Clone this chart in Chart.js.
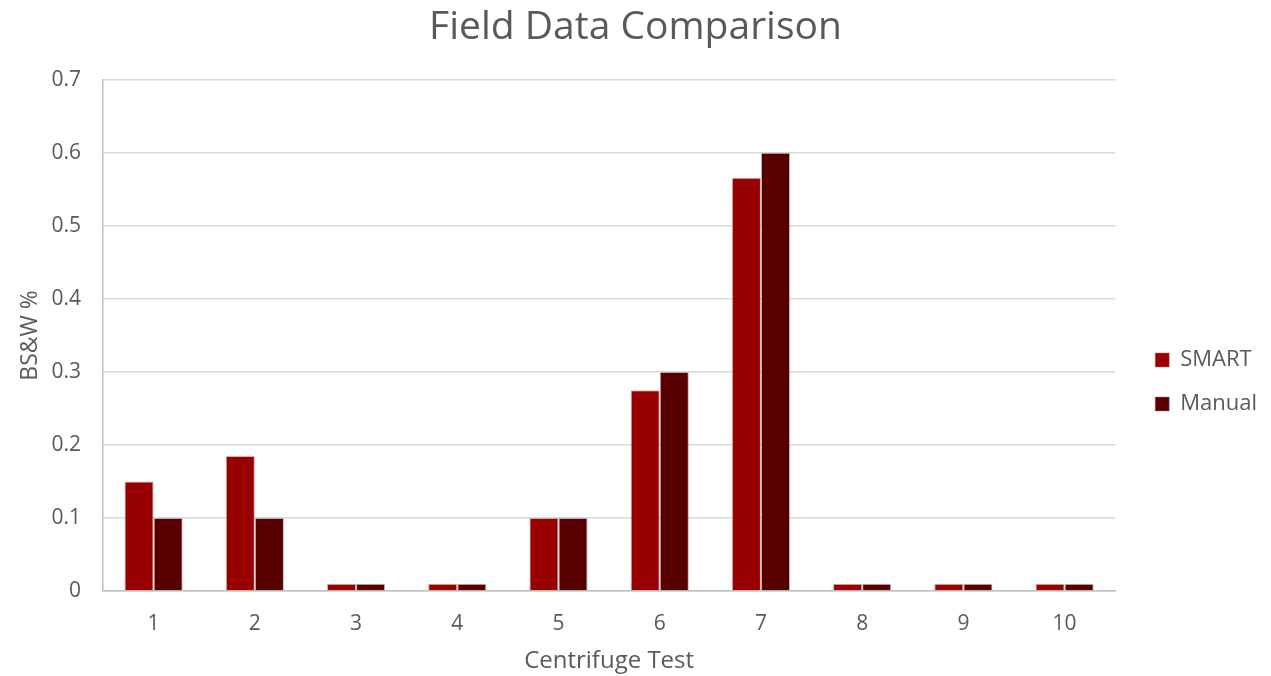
<!DOCTYPE html>
<html>
<head>
<meta charset="utf-8">
<script src="https://cdn.jsdelivr.net/npm/chart.js@4/dist/chart.umd.min.js"></script>
<style>
  html, body { margin: 0; padding: 0; background: #ffffff; }
  #wrap { width: 1271px; height: 676px; }
</style>
</head>
<body>
<div id="wrap"><canvas id="c" width="1271" height="676"></canvas></div>
<script>
// Centrifuge test numbers along the x axis
const categories = ['1', '2', '3', '4', '5', '6', '7', '8', '9', '10'];
// BS&W % readings per test
const smartValues  = [0.15, 0.185, 0.01, 0.01, 0.1, 0.275, 0.566, 0.01, 0.01, 0.01];
const manualValues = [0.1, 0.1, 0.01, 0.01, 0.1, 0.3, 0.6, 0.01, 0.01, 0.01];
const yTicks = [0, 0.1, 0.2, 0.3, 0.4, 0.5, 0.6, 0.7];

const FONT = "'Open Sans', 'Liberation Sans', sans-serif";
const TEXT = '#595959';

// Nudge the legend away from the plot and centre the title on the full canvas
const boxOffsets = {
  id: 'boxOffsets',
  afterLayout(chart) {
    const lg = chart.legend;
    if (lg) { lg.left += 18; lg.right += 18; }
    const tb = chart.titleBlock;
    if (tb) { tb.left += 11; tb.right += 11; }
  }
};

new Chart(document.getElementById('c'), {
  type: 'bar',
  data: {
    labels: categories,
    datasets: [
      { label: 'SMART',  data: smartValues,  backgroundColor: '#990000', borderColor: 'rgba(160,110,110,0.5)', borderWidth: 1 },
      { label: 'Manual', data: manualValues, backgroundColor: '#580000', borderColor: 'rgba(160,110,110,0.5)', borderWidth: 1 }
    ]
  },
  plugins: [boxOffsets],
  options: {
    responsive: false,
    animation: false,
    devicePixelRatio: 1,
    layout: { padding: { left: 0, right: 22, top: 0, bottom: 0 } },
    datasets: { bar: { categoryPercentage: 0.575, barPercentage: 1.0 } },
    plugins: {
      title: {
        display: true,
        text: 'Field Data Comparison',
        color: TEXT,
        font: { family: FONT, size: 39, weight: 'normal' },
        padding: { top: 4, bottom: 29 }
      },
      legend: {
        position: 'right',
        title: { display: true, text: ' ', font: { size: 10 }, padding: { top: 76, bottom: 0 } },
        labels: {
          color: TEXT,
          font: { family: FONT, size: 22 },
          boxWidth: 14,
          boxHeight: 14,
          padding: 22,
          useBorderRadius: false
        }
      },
      tooltip: { enabled: false }
    },
    scales: {
      x: {
        afterFit: (axis) => { axis.height = 85; },
        grid: { display: false, drawTicks: false },
        border: { color: '#bfbfbf', width: 1.5 },
        ticks: { color: TEXT, font: { family: FONT, size: 21 }, padding: 20 },
        title: { display: true, text: 'Centrifuge Test', color: TEXT, font: { family: FONT, size: 24 }, padding: { top: 2, bottom: 0 } }
      },
      y: {
        min: 0,
        max: 0.7,
        afterFit: (axis) => { axis.width = 103; },
        afterBuildTicks: (axis) => { axis.ticks = yTicks.map(v => ({ value: v })); },
        grid: { color: '#d9d9d9', lineWidth: 1.5, drawTicks: false },
        border: { color: '#bfbfbf', width: 1.5 },
        ticks: { color: TEXT, font: { family: FONT, size: 21 }, padding: 22, callback: (v) => String(Math.round(v * 10) / 10) },
        title: { display: true, text: 'BS&W %', color: TEXT, font: { family: FONT, size: 23 }, padding: { top: 17, bottom: 0 } }
      }
    }
  }
});
</script>
</body>
</html>
